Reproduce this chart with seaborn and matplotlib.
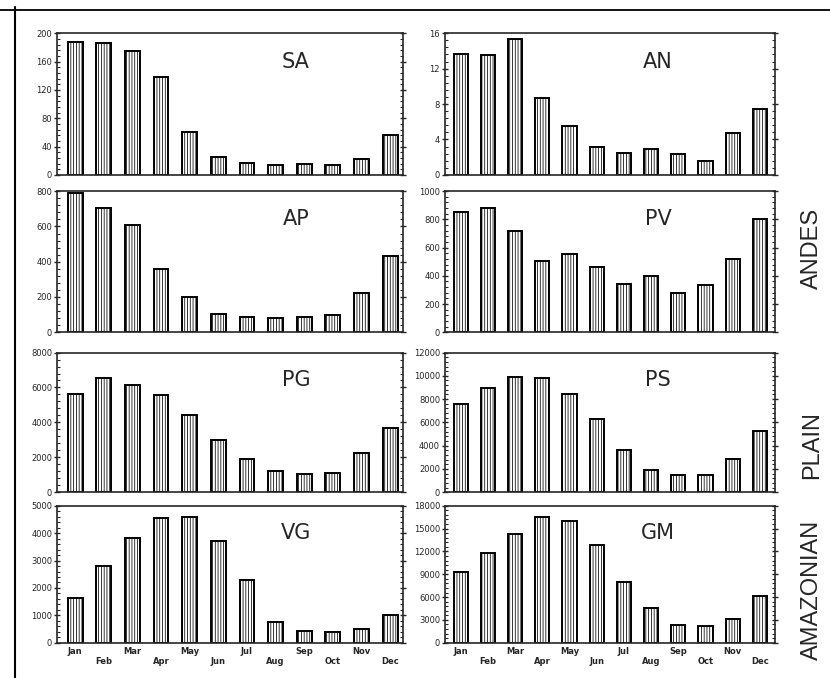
import numpy as np
import pandas as pd
import matplotlib
matplotlib.use('Agg')
import matplotlib.pyplot as plt
import seaborn as sns
from matplotlib.ticker import MultipleLocator, AutoMinorLocator
from matplotlib.lines import Line2D

months = ['Jan', 'Feb', 'Mar', 'Apr', 'May', 'Jun', 'Jul', 'Aug', 'Sep', 'Oct', 'Nov', 'Dec']

# monthly values
sa = [188, 186, 175, 138, 61, 25, 17, 14, 16, 14, 22, 56]
an = [13.7, 13.5, 15.3, 8.7, 5.5, 3.2, 2.5, 2.9, 2.4, 1.6, 4.7, 7.45]
ap = [789, 706, 610, 360, 200, 102, 88, 83, 87, 98, 220, 435]
pv = [850, 882, 716, 508, 557, 462, 339, 397, 275, 335, 522, 804]
pg = [5600, 6530, 6130, 5560, 4440, 3010, 1890, 1200, 1030, 1100, 2230, 3700]
ps = [7540, 8930, 9900, 9800, 8430, 6310, 3600, 1870, 1450, 1450, 2820, 5220]
vg = [1640, 2790, 3810, 4550, 4575, 3730, 2280, 765, 425, 390, 485, 1020]
gm = [9290, 11850, 14240, 16500, 16050, 12870, 8000, 4510, 2340, 2260, 3180, 6150]

names = ['SA', 'AN', 'AP', 'PV', 'PG', 'PS', 'VG', 'GM']
series = [sa, an, ap, pv, pg, ps, vg, gm]
ymax = [200, 16, 800, 1000, 8000, 12000, 5000, 18000]
ystep = [40, 4, 200, 200, 2000, 2000, 1000, 3000]
regions = ['ANDES', 'PLAIN', 'AMAZONIAN']

sns.set_style('ticks')
plt.rcParams['hatch.color'] = '#444444'
plt.rcParams['hatch.linewidth'] = 0.55

fig = plt.figure(figsize=(8.3, 6.78), dpi=100)

# panel boxes (left, bottom, width, height) in figure fractions
lefts = [0.0687, 0.536]
widths = [0.417, 0.398]
bottoms = [0.742, 0.510, 0.274, 0.052]
heights = [0.209, 0.208, 0.206, 0.202]

for i in range(8):
    row, col = i // 2, i % 2
    ax = fig.add_axes([lefts[col], bottoms[row], widths[col], heights[row]])
    df = pd.DataFrame({'month': months, 'value': series[i]})
    sns.barplot(data=df, x='month', y='value', ax=ax, color='white',
                edgecolor='black', linewidth=1.4, width=0.52, saturation=1)
    for p in ax.patches:
        p.set_hatch('||||||')
    ax.set_ylim(0, ymax[i])
    ax.set_xlim(-0.63 if col == 0 else -0.58, 11.45 if col == 0 else 11.56)
    ax.yaxis.set_major_locator(MultipleLocator(ystep[i]))
    ax.yaxis.set_minor_locator(AutoMinorLocator(5))
    ax.tick_params(axis='y', which='major', direction='inout', length=5,
                   width=1, labelsize=6, right=True, pad=1)
    ax.tick_params(axis='y', which='minor', direction='in', length=2.5,
                   width=0.8, right=True)
    ax.set_xlabel('')
    ax.set_ylabel('')
    for s in ax.spines.values():
        s.set_linewidth(1.2)
    if row == 3:
        ax.set_xticks(range(12))
        ax.set_xticklabels([m if k % 2 == 0 else '\n' + m for k, m in enumerate(months)],
                           fontsize=6, fontweight='semibold')
        ax.tick_params(axis='x', length=0, pad=3)
    else:
        ax.set_xticks([])
    ax.text(0.69 if col == 0 else 0.645, 0.8, names[i], transform=ax.transAxes,
            ha='center', va='center', fontsize=15, family='DejaVu Sans')

# region labels on the right
for r, yc in zip(regions, [0.634, 0.343, 0.13]):
    fig.text(0.978, yc, r, rotation=90, ha='center', va='center',
             fontsize=17, family='Liberation Sans')

# scan frame lines
fig.add_artist(Line2D([0.018, 0.018], [0.0, 0.99], color='black', lw=1.5))
fig.add_artist(Line2D([0.0, 1.0], [0.985, 0.985], color='black', lw=1.3))

fig.savefig('out.png', dpi=100)
